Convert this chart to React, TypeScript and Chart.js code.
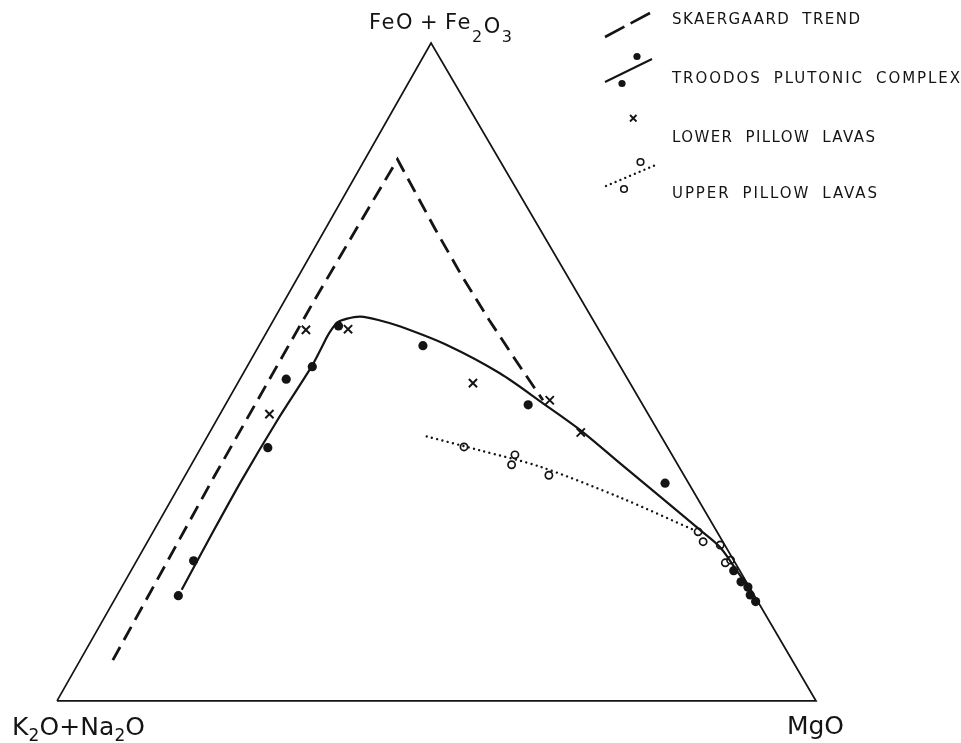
import React, { useEffect, useRef } from 'react';
import { Chart, registerables } from 'chart.js';

Chart.register(...registerables);

// Ternary values: [K2O+Na2O, FeO+Fe2O3, MgO] (percent, sums to 100)
const triangleOutline = [
  [100, 0, 0],
  [0, 0, 100],
  [0, 100, 0],
  [100, 0, 0],
];

const skaergaardTrend = [
  [89.5, 6.2, 4.3],
  [61.8, 34.3, 3.9],
  [35.5, 60.6, 3.9],
  [23.3, 72.6, 4.1],
  [13.4, 82.3, 4.3],
  [13.8, 71.8, 14.4],
  [13.9, 64.6, 21.5],
  [13.7, 57.9, 28.4],
  [13.3, 51.7, 35.0],
  [12.8, 45.7, 41.5],
];

const troodosTrend = [
  [75.0, 16.9, 8.1],
  [67.0, 25.1, 7.9],
  [58.6, 33.6, 7.8],
  [49.6, 42.4, 8.0],
  [40.7, 50.8, 8.5],
  [38.1, 53.5, 8.4],
  [35.9, 55.8, 8.3],
  [33.9, 57.5, 8.6],
  [32.3, 58.1, 9.6],
  [30.4, 58.4, 11.2],
  [28.3, 57.9, 13.8],
  [25.9, 56.9, 17.2],
  [21.2, 54.1, 24.7],
  [16.4, 49.8, 33.8],
  [13.0, 45.2, 41.8],
  [10.2, 41.2, 48.6],
  [7.5, 36.1, 56.4],
  [4.8, 31.1, 64.1],
  [2.1, 26.0, 71.9],
  [0.8, 23.4, 75.8],
  [0.4, 19.9, 79.7],
  [0.1, 16.9, 83.0],
];

const troodosPlutonic = [
  [75.9, 16.0, 8.1],
  [71.2, 21.3, 7.5],
  [52.7, 38.5, 8.8],
  [45.0, 48.9, 6.1],
  [40.6, 50.8, 8.6],
  [34.0, 57.0, 9.0],
  [24.4, 54.0, 21.6],
  [15.1, 45.0, 39.9],
  [3.1, 33.1, 63.8],
  [0.8, 19.8, 79.4],
  [0.7, 18.1, 81.2],
  [0.2, 17.3, 82.5],
  [0.5, 16.1, 83.4],
  [0.3, 15.1, 84.6],
];

const lowerPillowLavas = [
  [49.9, 43.6, 6.5],
  [38.6, 56.4, 5.0],
  [33.0, 56.5, 10.5],
  [20.7, 48.3, 31.0],
  [11.9, 45.7, 42.4],
  [10.3, 40.8, 48.9],
];

const upperPillowTrend = [
  [30.9, 40.2, 28.9],
  [25.0, 38.1, 36.9],
  [18.3, 35.6, 46.1],
  [10.1, 30.9, 59.0],
  [2.8, 25.9, 71.3],
];

const upperPillowLavas = [
  [26.8, 38.6, 34.6],
  [20.7, 37.4, 41.9],
  [21.9, 35.9, 42.2],
  [17.8, 34.3, 47.9],
  [2.5, 25.7, 71.8],
  [2.6, 24.2, 73.2],
  [0.6, 23.7, 75.7],
  [1.3, 21.0, 77.7],
  [0.4, 21.4, 78.2],
];

const seriesLabels = [
  'SKAERGAARD TREND',
  'TROODOS PLUTONIC COMPLEX',
  'LOWER PILLOW LAVAS',
  'UPPER PILLOW LAVAS',
];

// the original drawing's apex sits slightly left of the base midpoint
const APEX_POS = 0.4928;
const toXY = (p: number[]) => ({ x: p[2] + p[1] * APEX_POS, y: p[1] });

const FONT = '"DejaVu Sans", "Liberation Sans", sans-serif';
const INK = '#141414';

type Run = { t: string; size: number; dy?: number; gap?: number };

function drawRuns(ctx: CanvasRenderingContext2D, runs: Run[], x: number, baseline: number, width: number) {
  ctx.letterSpacing = '0px';
  let nat = 0;
  let n = 0;
  let gaps = 0;
  for (const r of runs) {
    ctx.font = `${r.size}px ${FONT}`;
    nat += ctx.measureText(r.t).width;
    n += r.t.length;
    gaps += r.gap || 0;
  }
  const ls = (width - nat - gaps) / Math.max(1, n - 1);
  let cx = x;
  for (const r of runs) {
    cx += r.gap || 0;
    ctx.font = `${r.size}px ${FONT}`;
    ctx.letterSpacing = '0px';
    const w = ctx.measureText(r.t).width;
    ctx.letterSpacing = `${ls}px`;
    ctx.fillText(r.t, cx, baseline + (r.dy || 0));
    cx += w + ls * r.t.length;
  }
  ctx.letterSpacing = '0px';
}

function wordRuns(text: string, size: number, gap: number): Run[] {
  return text.split(' ').map((t, i) => ({ t, size, gap: i === 0 ? 0 : gap }));
}

const annotationPlugin = {
  id: 'afmAnnotations',
  afterDraw(chart: any) {
    const ctx: CanvasRenderingContext2D = chart.ctx;
    ctx.save();
    ctx.fillStyle = INK;
    ctx.strokeStyle = INK;
    ctx.textBaseline = 'alphabetic';
    ctx.textAlign = 'left';

    // vertex labels
    drawRuns(ctx, [
      { t: 'FeO', size: 21 },
      { t: '+', size: 21, gap: 6 },
      { t: 'Fe', size: 21, gap: 6 },
      { t: '2', size: 16, dy: 13 },
      { t: 'O', size: 21, dy: 4 },
      { t: '3', size: 16, dy: 13 },
    ], 369, 28.5, 143);
    drawRuns(ctx, [
      { t: 'K', size: 25 },
      { t: '2', size: 17, dy: 6 },
      { t: 'O+Na', size: 25 },
      { t: '2', size: 17, dy: 6 },
      { t: 'O', size: 25 },
    ], 12, 735, 133);
    drawRuns(ctx, [{ t: 'MgO', size: 25 }], 787, 734, 57);

    // legend
    const textX = 672;
    const rows = [23.5, 83, 141.5, 198];
    const widths = [188, 288, 203, 205];
    seriesLabels.forEach((label, i) => {
      drawRuns(ctx, wordRuns(label, 15, 12), textX, rows[i], widths[i]);
    });

    ctx.lineCap = 'butt';
    // Skaergaard symbol
    ctx.lineWidth = 2.6;
    ctx.setLineDash([22, 7]);
    ctx.beginPath();
    ctx.moveTo(605, 37);
    ctx.lineTo(650, 13);
    ctx.stroke();
    ctx.setLineDash([]);

    // Troodos symbol
    ctx.lineWidth = 2;
    ctx.beginPath();
    ctx.moveTo(605, 82);
    ctx.lineTo(652, 59);
    ctx.stroke();
    [[637, 56.5], [622, 83.5]].forEach(([px, py]) => {
      ctx.beginPath();
      ctx.arc(px, py, 3.6, 0, Math.PI * 2);
      ctx.fill();
    });

    // lower pillow symbol
    ctx.lineWidth = 1.8;
    ctx.beginPath();
    ctx.moveTo(630, 115);
    ctx.lineTo(636.5, 121.5);
    ctx.moveTo(636.5, 115);
    ctx.lineTo(630, 121.5);
    ctx.stroke();

    // upper pillow symbol
    ctx.lineWidth = 2.4;
    ctx.lineCap = 'round';
    ctx.setLineDash([0.01, 5.2]);
    ctx.beginPath();
    ctx.moveTo(606, 186);
    ctx.lineTo(658, 164);
    ctx.stroke();
    ctx.setLineDash([]);
    ctx.lineWidth = 1.6;
    ctx.fillStyle = '#ffffff';
    [[640.5, 162], [624, 189]].forEach(([px, py]) => {
      ctx.beginPath();
      ctx.arc(px, py, 3.3, 0, Math.PI * 2);
      ctx.fill();
      ctx.stroke();
    });
    ctx.restore();
  },
};

export default function App() {
  const canvasRef = useRef<HTMLCanvasElement | null>(null);

  useEffect(() => {
    const canvas = canvasRef.current;
    if (!canvas) return;
    const line = (data: number[][], extra: any) => ({
      data: data.map(toXY),
      showLine: true,
      pointRadius: 0,
      borderColor: INK,
      backgroundColor: INK,
      fill: false,
      ...extra,
    });
    const chart = new Chart(canvas, {
      type: 'scatter',
      data: {
        datasets: [
          line(triangleOutline, { label: 'frame', borderWidth: 1.7, tension: 0 }),
          line(skaergaardTrend, { label: seriesLabels[0], borderWidth: 2.8, borderDash: [15, 8], tension: 0 }),
          line(troodosTrend, { label: seriesLabels[1] + ' trend', borderWidth: 2.2, tension: 0.3 }),
          line(upperPillowTrend, {
            label: seriesLabels[3] + ' trend',
            borderWidth: 2.4,
            borderDash: [0.01, 5.4],
            borderCapStyle: 'round',
            tension: 0.3,
          }),
          {
            label: seriesLabels[1],
            data: troodosPlutonic.map(toXY),
            pointStyle: 'circle',
            pointRadius: 4.6,
            backgroundColor: INK,
            borderColor: INK,
            borderWidth: 0,
          },
          {
            label: seriesLabels[2],
            data: lowerPillowLavas.map(toXY),
            pointStyle: 'crossRot',
            pointRadius: 5.8,
            borderColor: INK,
            borderWidth: 2,
          },
          {
            label: seriesLabels[3],
            data: upperPillowLavas.map(toXY),
            pointStyle: 'circle',
            pointRadius: 3.6,
            backgroundColor: '#ffffff',
            borderColor: INK,
            borderWidth: 1.7,
          },
        ],
      },
      options: {
        animation: false,
        responsive: false,
        maintainAspectRatio: false,
        devicePixelRatio: 1,
        events: [],
        layout: { padding: 0, autoPadding: false },
        scales: {
          x: { type: 'linear', min: -7.51, max: 119.1, display: false },
          y: { type: 'linear', min: -6.39, max: 106.53, display: false },
        },
        plugins: {
          legend: { display: false },
          tooltip: { enabled: false },
          title: { display: false },
        },
      },
      plugins: [annotationPlugin],
    } as any);
    return () => chart.destroy();
  }, []);

  return (
    <div style={{ position: 'absolute', left: 0, top: 0, width: 961, height: 743, background: '#ffffff' }}>
      <canvas ref={canvasRef} width={961} height={743} style={{ display: 'block' }} />
    </div>
  );
}
